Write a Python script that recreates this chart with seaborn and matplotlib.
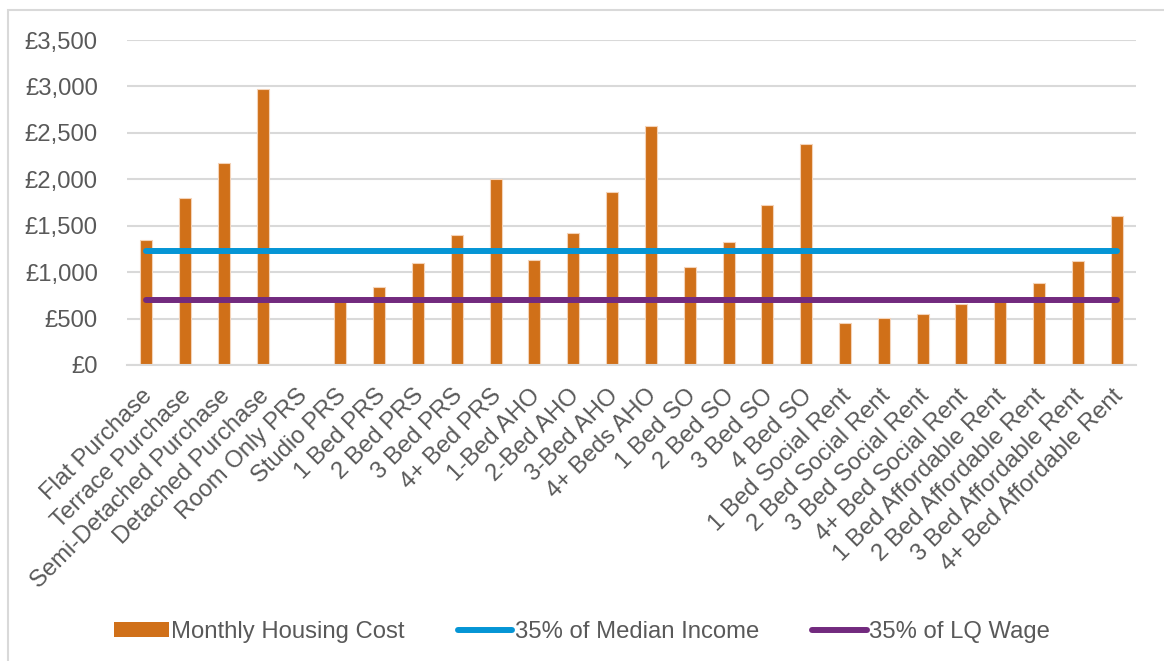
import numpy as np
import pandas as pd
import seaborn as sns
import matplotlib.pyplot as plt
import matplotlib.transforms as mtransforms
from matplotlib.patches import Patch, Rectangle
from matplotlib.lines import Line2D
from matplotlib.ticker import FuncFormatter

# ================== DATA ==================
categories = [
    "Flat Purchase", "Terrace Purchase", "Semi-Detached Purchase", "Detached Purchase",
    "Room Only PRS", "Studio PRS", "1 Bed PRS", "2 Bed PRS", "3 Bed PRS", "4+ Bed PRS",
    "1-Bed AHO", "2-Bed AHO", "3-Bed AHO", "4+ Beds AHO",
    "1 Bed SO", "2 Bed SO", "3 Bed SO", "4 Bed SO",
    "1 Bed Social Rent", "2 Bed Social Rent", "3 Bed Social Rent", "4+ Bed Social Rent",
    "1 Bed Affordable Rent", "2 Bed Affordable Rent", "3 Bed Affordable Rent", "4+ Bed Affordable Rent",
]
monthly_cost = [
    1350, 1800, 2180, 2970,
    0, 690, 845, 1100, 1400, 2000,
    1130, 1420, 1860, 2570,
    1050, 1325, 1725, 2380,
    450, 505, 545, 655,
    690, 880, 1115, 1600,
]
median_income_35 = [1225] * len(categories)
lq_wage_35 = [705] * len(categories)

series_names = ["Monthly Housing Cost", "35% of Median Income", "35% of LQ Wage"]

# ================== STYLE ==================
ORANGE = "#D07019"
BLUE = "#0595D5"
PURPLE = "#722A7E"
GRID = "#D9D9D9"
TXT = "#595959"
FS = 17.2

sns.set_style("white")
plt.rcParams["font.family"] = ["Liberation Sans", "DejaVu Sans"]

df = pd.DataFrame({"category": categories, "cost": monthly_cost})

fig = plt.figure(figsize=(11.64, 6.61), dpi=100)
ax = fig.add_axes([127 / 1164, 1 - 365 / 661, (1136 - 127) / 1164, (365 - 40) / 661])

sns.barplot(data=df, x="category", y="cost", order=categories, color=ORANGE,
            width=0.31, saturation=1, edgecolor="#F4D3B8", linewidth=0.8, ax=ax, zorder=2)

xs = np.arange(len(categories))
ax.plot(xs, median_income_35, color=BLUE, lw=4.3, solid_capstyle="round", zorder=3)
ax.plot(xs, lq_wage_35, color=PURPLE, lw=4.3, solid_capstyle="round", zorder=3)

ax.set_ylim(0, 3500)
ax.set_xlim(-0.5, len(categories) - 0.5)
ax.set_yticks(np.arange(0, 3501, 500))
ax.yaxis.set_major_formatter(FuncFormatter(lambda v, p: f"£{v:,.0f}"))
ax.grid(axis="y", color=GRID, lw=1.5, zorder=0)
ax.set_axisbelow(True)
for s in ["top", "right", "left"]:
    ax.spines[s].set_visible(False)
ax.spines["bottom"].set_color(GRID)
ax.spines["bottom"].set_linewidth(1.5)

ax.set_xlabel("")
ax.set_ylabel("")
ax.tick_params(axis="both", length=0, colors=TXT, labelsize=FS)
ax.tick_params(axis="y", pad=21)
ax.tick_params(axis="x", pad=12)
shift = mtransforms.ScaledTranslation(-5 / 100, -3 / 100, fig.dpi_scale_trans)
for lbl in ax.get_xticklabels():
    lbl.set_rotation(45)
    lbl.set_ha("right")
    lbl.set_rotation_mode("anchor")
    lbl.set_transform(lbl.get_transform() + shift)

# frame round the chart
fig.patches.append(Rectangle((8 / 1164, -0.1), 1.2, 1 - 10 / 661 + 0.1,
                             transform=fig.transFigure, fill=False, ec=GRID, lw=1.5))

handles = [
    Patch(facecolor=ORANGE, edgecolor="none"),
    Line2D([0], [0], color=BLUE, lw=4.3, solid_capstyle="round"),
    Line2D([0], [0], color=PURPLE, lw=4.3, solid_capstyle="round"),
]
fig.legend(handles, series_names, loc="center", bbox_to_anchor=(0.5, 1 - 632 / 661),
           ncol=3, frameon=False, fontsize=FS, labelcolor=TXT, handlelength=2.3,
           handleheight=0.55, handletextpad=0.1, columnspacing=2.2)

fig.savefig("out.png", dpi=100)
